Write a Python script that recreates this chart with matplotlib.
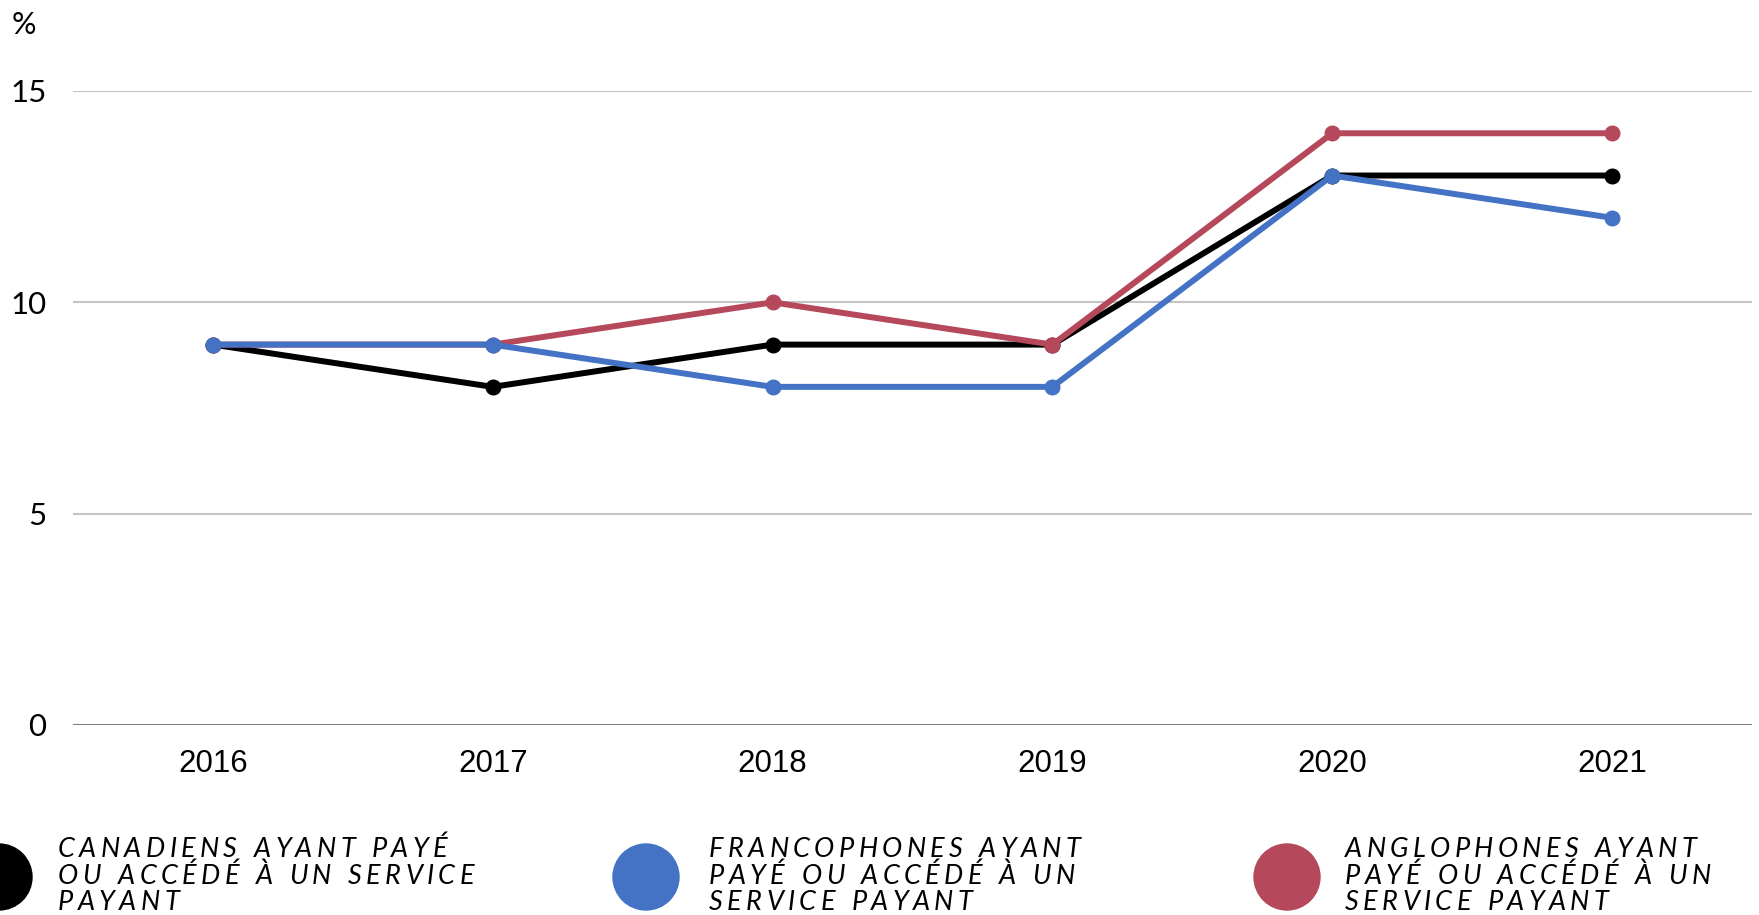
import matplotlib
matplotlib.use("Agg")
import matplotlib.pyplot as plt
from matplotlib.patches import Circle

# data
years = ["2016", "2017", "2018", "2019", "2020", "2021"]
canadiens = [9, 8, 9, 9, 13, 13]
francophones = [9, 9, 8, 8, 13, 12]
anglophones = [9, 9, 10, 9, 14, 14]
y_ticks = [0, 5, 10, 15]

labels = [
    ["CANADIENS AYANT PAYÉ", "OU ACCÉDÉ À UN SERVICE", "PAYANT"],
    ["FRANCOPHONES AYANT", "PAYÉ OU ACCÉDÉ À UN", "SERVICE PAYANT"],
    ["ANGLOPHONES AYANT", "PAYÉ OU ACCÉDÉ À UN", "SERVICE PAYANT"],
]
colors = ["#000000", "#4472C4", "#B5485A"]

W, H, DPI = 1759, 915, 100
fig = plt.figure(figsize=(W / DPI, H / DPI), dpi=DPI)
ax = fig.add_axes([73 / W, 1 - 725 / H, (1752 - 73) / W, (725 - 91) / H])

x = list(range(len(years)))
# draw order: black, red, blue on top
for vals, c in [(canadiens, colors[0]), (anglophones, colors[2]), (francophones, colors[1])]:
    ax.plot(x, vals, color=c, lw=4.3, marker="o", ms=10.5, solid_capstyle="round",
            clip_on=False, zorder=3)

ax.set_xlim(-0.5, 5.5)
ax.set_ylim(0, 15)
ax.set_xticks(x)
ax.set_xticklabels(years, fontsize=22.5, family="Liberation Sans")
ax.set_yticks(y_ticks)
ax.set_yticklabels([str(v) for v in y_ticks], fontsize=22.5, family="Lato")
ax.tick_params(axis="both", length=0)
ax.tick_params(axis="x", pad=17)
ax.tick_params(axis="y", pad=19)
for s in ax.spines.values():
    s.set_visible(False)
for v in y_ticks:
    ax.axhline(v, color="#808080" if v == 0 else "#c4c4c4", lw=1.5, zorder=1)

fig.text(12 / W, 1 - 25 / H, "%", fontsize=22, family="Lato", va="center", ha="left")

# legend: circles plus letter-spaced italic caps, placed char by char
renderer = fig.canvas.get_renderer()


def spaced_text(x0, y0, s, track=4.3, space=8):
    xp = x0
    for ch in s:
        if ch == " ":
            xp += space + track
            continue
        t = fig.text(xp / W, 1 - y0 / H, ch, fontsize=19.5, family="Lato", style="italic",
                     va="baseline", ha="left")
        xp += t.get_window_extent(renderer).width + track


circle_x = [-1, 646, 1287]
text_x = [58, 709, 1345]
for cx, tx, c, lines in zip(circle_x, text_x, colors, labels):
    fig.add_artist(Circle((cx / DPI, (H - 877) / DPI), 33 / DPI, color=c,
                          transform=fig.dpi_scale_trans, clip_on=False))
    for i, line in enumerate(lines):
        spaced_text(tx, 857 + i * 26.5, line)

fig.savefig("out.png", dpi=DPI)
